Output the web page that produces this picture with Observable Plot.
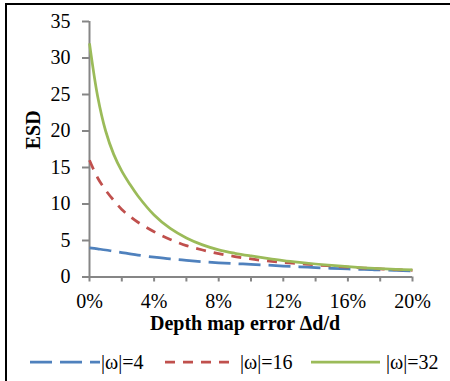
<!DOCTYPE html>
<html>
<head>
<meta charset="utf-8">
<script src="https://cdn.jsdelivr.net/npm/d3@7"></script>
<script src="https://cdn.jsdelivr.net/npm/@observablehq/plot@0.6"></script>
<style>
  html, body { margin: 0; padding: 0; background: #fff; }
  #wrap { position: relative; width: 450px; height: 381px; overflow: hidden; background: #fff; font-family: "Liberation Serif", "Times New Roman", serif; }
  #frame { position: absolute; left: 5px; top: 3px; width: 443px; height: 380px; border-left: 2px solid #000; border-top: 2px solid #000; pointer-events: none; }
  #chart { position: absolute; left: 0; top: 0; }
  .leg { position: absolute; top: 349px; height: 26px; font-size: 20px; line-height: 26px; color: #000; white-space: nowrap; }
</style>
</head>
<body>
<div id="wrap">
  <div id="chart"></div>
  <div id="legend"></div>
  <div id="frame"></div>
</div>
<script>
// Depth map error (%) and ESD values
const errPct = [0, 0.5, 1, 1.5, 2, 2.5, 3, 4, 5, 6, 7, 8, 9, 10, 11, 12, 13, 14, 15, 16, 17, 18, 19, 20];
const esd4  = [4.0, 3.85, 3.7, 3.52, 3.35, 3.17, 3.0, 2.72, 2.47, 2.28, 2.1, 1.95, 1.84, 1.73, 1.62, 1.5, 1.4, 1.28, 1.18, 1.1, 1.03, 0.97, 0.9, 0.85];
const esd16 = [16.0, 13.6, 11.9, 10.5, 9.25, 8.3, 7.5, 6.2, 5.15, 4.3, 3.7, 3.2, 2.8, 2.47, 2.2, 2.0, 1.83, 1.65, 1.5, 1.36, 1.23, 1.11, 1.0, 0.92];
const esd32 = [32.0, 24.8, 20.0, 16.8, 14.5, 12.7, 11.1, 8.5, 6.65, 5.35, 4.4, 3.72, 3.25, 2.88, 2.55, 2.25, 2.0, 1.78, 1.6, 1.42, 1.26, 1.14, 1.04, 0.96];
const seriesNames = ["|ω|=4", "|ω|=16", "|ω|=32"];
const seriesColors = ["#4F81BD", "#C0504D", "#9BBB59"];
const seriesDash = ["22,8", "10,8", null];
const xTicks = [0, 2, 4, 6, 8, 10, 12, 14, 16, 18, 20];
const yTicks = [0, 5, 10, 15, 20, 25, 30, 35];
const xTitle = "Depth map error Δd/d";
const yTitle = "ESD";

const allSeries = [esd4, esd16, esd32];
const marks = [];
allSeries.forEach((vals, s) => {
  const data = errPct.map((x, i) => ({x, y: vals[i]}));
  marks.push(Plot.line(data, {
    x: "x", y: "y", curve: "catmull-rom",
    stroke: seriesColors[s], strokeWidth: 2.75,
    strokeDasharray: seriesDash[s] || undefined,
    strokeLinecap: "butt"
  }));
});

const chart = Plot.plot({
  width: 450,
  height: 345,
  marginLeft: 89,
  marginRight: 38,
  marginTop: 21,
  marginBottom: 68.5,
  style: { fontFamily: "'Liberation Serif', 'Times New Roman', serif", fontSize: "20px", color: "#000", background: "transparent" },
  x: { domain: [0, 20] },
  y: { domain: [0, 35] },
  marks: [
    Plot.axisX({ ticks: xTicks, tickSize: 5, tickPadding: 12, stroke: "#868686", strokeWidth: 2,
      tickFormat: (d) => (d % 4 === 0 ? d + "%" : ""), label: null, fontSize: 20, fill: "#000" }),
    Plot.axisY({ ticks: yTicks, tickSize: 7, tickPadding: 12, stroke: "#868686", strokeWidth: 2,
      tickFormat: (d) => String(d), label: null, fontSize: 20, fill: "#000" }),
    Plot.ruleX([0], { stroke: "#868686", strokeWidth: 2 }),
    Plot.ruleY([0], { stroke: "#868686", strokeWidth: 2 }),
    ...marks,
    Plot.text([xTitle], { frameAnchor: "bottom", dy: 53, dx: -6, fontWeight: "bold", fontSize: 20, fill: "#000" }),
    Plot.text([yTitle], { frameAnchor: "left", dx: -56, rotate: -90, fontWeight: "bold", fontSize: 20, fill: "#000" })
  ]
});
document.getElementById("chart").appendChild(chart);

// Legend
const legend = document.getElementById("legend");
const swX = [30, 165, 311];
const swW = [70, 66, 69];
const txX = [101, 240, 386];
seriesNames.forEach((name, s) => {
  const sw = document.createElementNS("http://www.w3.org/2000/svg", "svg");
  sw.setAttribute("width", swW[s]);
  sw.setAttribute("height", 26);
  sw.style.position = "absolute";
  sw.style.left = swX[s] + "px";
  sw.style.top = "349px";
  const ln = document.createElementNS("http://www.w3.org/2000/svg", "line");
  ln.setAttribute("x1", 0); ln.setAttribute("x2", swW[s]);
  ln.setAttribute("y1", 13); ln.setAttribute("y2", 13);
  ln.setAttribute("stroke", seriesColors[s]);
  ln.setAttribute("stroke-width", 2.75);
  if (seriesDash[s]) ln.setAttribute("stroke-dasharray", seriesDash[s]);
  sw.appendChild(ln);
  legend.appendChild(sw);
  const t = document.createElement("div");
  t.className = "leg";
  t.style.left = txX[s] + "px";
  t.textContent = name;
  legend.appendChild(t);
});
</script>
</body>
</html>
